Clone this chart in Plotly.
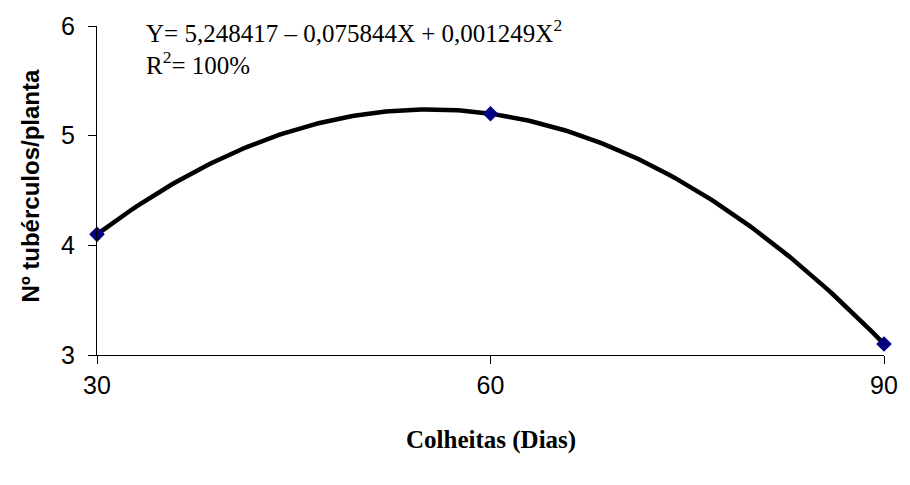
import numpy as np
import plotly.graph_objects as go

dias = [30, 60, 90]
tuberculos = [4.1, 5.2, 3.1]
x_ticks = [30, 60, 90]
y_ticks = [3, 4, 5, 6]

coef = np.polyfit(dias, tuberculos, 2)
xs = np.linspace(min(dias), max(dias), 200)
ys = np.polyval(coef, xs)

fig = go.Figure()
fig.add_trace(go.Scatter(x=xs, y=ys, mode="lines",
                         line=dict(color="black", width=4.5), hoverinfo="skip",
                         showlegend=False, cliponaxis=False))
fig.add_trace(go.Scatter(x=dias, y=tuberculos, mode="markers",
                         marker=dict(symbol="diamond", size=12, color="#000080"),
                         showlegend=False, cliponaxis=False))

fig.update_layout(
    width=910, height=485,
    margin=dict(l=97, r=17, t=25, b=130),
    plot_bgcolor="white", paper_bgcolor="white",
    font=dict(family="Liberation Sans, Arial", size=25, color="black"),
    xaxis=dict(range=[30, 90], tickvals=x_ticks, showgrid=False, zeroline=False,
               showline=True, linecolor="black", linewidth=1,
               ticks="outside", ticklen=8, tickcolor="black",
               tickfont=dict(family="Liberation Sans, Arial", size=25)),
    yaxis=dict(range=[3, 6], tickvals=y_ticks, showgrid=False, zeroline=False,
               showline=True, linecolor="black", linewidth=1,
               ticks="outside", ticklen=8, tickcolor="black",
               ticklabelstandoff=8,
               tickfont=dict(family="Liberation Sans, Arial", size=25)),
)
fig.add_annotation(xref="paper", yref="paper", x=0.5, y=-0.258,
                   xanchor="center", yanchor="middle", showarrow=False,
                   text="<b>Colheitas (Dias)</b>",
                   font=dict(family="Liberation Serif, Times New Roman", size=25))
fig.add_annotation(xref="paper", yref="paper", x=-0.084, y=0.515,
                   xanchor="center", yanchor="middle", showarrow=False, textangle=-90,
                   text="<b>Nº tubérculos/planta</b>",
                   font=dict(family="Liberation Sans, Arial", size=24))
fig.add_annotation(xref="paper", yref="paper", x=0.060, y=0.985,
                   xanchor="left", yanchor="middle", showarrow=False, align="left",
                   text="Y= 5,248417 – 0,075844X + 0,001249X<sup>2</sup>",
                   font=dict(family="Liberation Serif, Times New Roman", size=25))
fig.add_annotation(xref="paper", yref="paper", x=0.060, y=0.888,
                   xanchor="left", yanchor="middle", showarrow=False, align="left",
                   text="R<sup>2</sup>= 100%",
                   font=dict(family="Liberation Serif, Times New Roman", size=25))

fig.write_html("out.html")
